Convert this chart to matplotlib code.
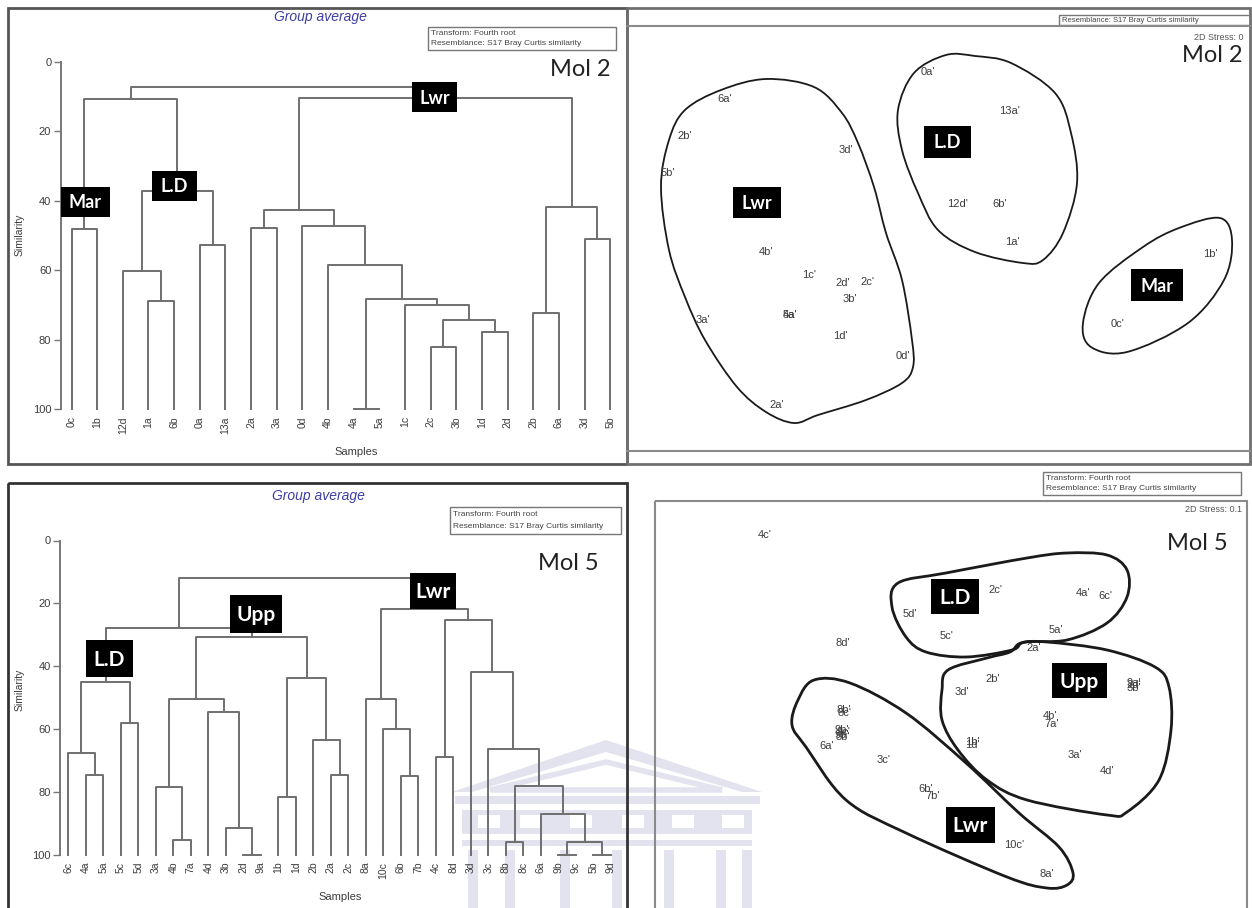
"""
Mol 2 / Mol 5 cluster dendrograms (group average, Bray Curtis) with the
matching 2D MDS ordinations and their hand-drawn group outlines.
"""

import matplotlib

matplotlib.use("Agg")  # headless-safe backend
import matplotlib.pyplot as plt
import numpy as np
from matplotlib.patches import PathPatch, Polygon, Rectangle
from matplotlib.path import Path

W, H = 1252, 908
LINE = "#6f6f6f"
TXT = "#3c3c3c"
SANS = "Liberation Sans"
BOX_FONT = "Lato"
WATERMARK = "#e2e3ef"

# ---------------------------------------------------------------- dendrogram data
# merges: (left, right, similarity); str = leaf, int = index of an earlier merge
MOL2_LEAVES = ["0c", "1b", "12d", "1a", "6b", "0a", "13a", "2a", "3a", "0d", "4b",
               "4a", "5a", "1c", "2c", "3b", "1d", "2d", "2b", "6a", "3d", "5b"]
MOL2_MERGES = [
    ("0c", "1b", 48.3), ("1a", "6b", 68.9), ("12d", 1, 60.3), ("0a", "13a", 52.9),
    (2, 3, 37.2), (0, 4, 10.8), ("2a", "3a", 47.8), ("4a", "5a", 100.0),
    ("2c", "3b", 82.0), ("1d", "2d", 77.7), (8, 9, 74.3), ("1c", 10, 69.9),
    (7, 11, 68.4), ("4b", 12, 58.4), ("0d", 13, 47.2), (6, 14, 42.6),
    ("2b", "6a", 72.2), ("3d", "5b", 50.9), (16, 17, 41.8), (15, 18, 10.4),
    (5, 19, 7.4),
]

MOL5_LEAVES = ["6c", "4a", "5a", "5c", "5d", "3a", "4b", "7a", "4d", "3b", "2d", "9a",
               "1b", "1d", "2b", "2a", "2c", "8a", "10c", "6b", "7b", "4c", "8d", "3d",
               "3c", "8b", "8c", "6a", "9b", "9c", "5b", "9d"]
MOL5_MERGES = [
    ("4a", "5a", 74.7), ("6c", 0, 67.6), ("5c", "5d", 58.2), (1, 2, 45.0),
    ("4b", "7a", 95.4), ("3a", 4, 78.4), ("2d", "9a", 100.0), ("3b", 6, 91.6),
    ("4d", 7, 54.7), (5, 8, 50.5), ("1b", "1d", 81.6), ("2a", "2c", 74.7),
    ("2b", 11, 63.5), (10, 12, 43.9), (9, 13, 30.6), (3, 14, 28.0),
    ("6b", "7b", 75.0), ("10c", 16, 60.1), ("8a", 17, 50.5), ("4c", "8d", 68.8),
    ("8b", "8c", 96.1), ("9b", "9c", 100.0), ("5b", "9d", 100.0), (21, 22, 96.1),
    ("6a", 23, 86.9), (20, 24, 78.1), ("3c", 25, 66.4), ("3d", 26, 42.0),
    (19, 27, 25.3), (18, 28, 21.9), (15, 29, 12.0),
]

# ---------------------------------------------------------------- MDS data
MOL2_SAMPLES = ["0a", "13a", "6a", "2b", "3d", "5b", "12d", "6b", "1a", "4b", "1c",
                "2d", "2c", "3b", "3a", "4a", "5a", "1d", "0d", "2a", "1b", "0c"]
MOL2_X = [-0.12, 0.70, -2.15, -2.55, -0.94, -2.72, 0.18, 0.60, 0.72, -1.74, -1.31,
          -0.97, -0.73, -0.90, -2.37, -1.50, -1.50, -1.00, -0.37, -1.63, 2.70, 1.78]
MOL2_Y = [1.68, 1.29, 1.41, 1.04, 0.90, 0.67, 0.36, 0.36, -0.02, -0.12, -0.35,
          -0.43, -0.42, -0.59, -0.80, -0.75, -0.75, -0.96, -1.16, -1.65, -0.14, -0.84]

MOL2_LWR_OUTLINE = [(-1.74, 1.61), (-1.26, 1.53), (-0.98, 1.27), (-0.82, 0.97),
                    (-0.66, 0.53), (-0.54, 0.07), (-0.38, -0.40), (-0.28, -1.00),
                    (-0.27, -1.27), (-0.38, -1.43), (-0.74, -1.60), (-1.22, -1.75),
                    (-1.46, -1.83), (-1.74, -1.72), (-2.03, -1.47), (-2.35, -1.00),
                    (-2.55, -0.57), (-2.71, -0.10), (-2.79, 0.53), (-2.71, 1.00),
                    (-2.55, 1.30), (-2.19, 1.50)]
MOL2_LD_OUTLINE = [(0.06, 1.85), (0.35, 1.84), (0.71, 1.77), (1.15, 1.47), (1.31, 1.07),
                   (1.37, 0.57), (1.23, 0.07), (1.03, -0.20), (0.83, -0.23),
                   (0.35, -0.12), (-0.02, 0.10), (-0.22, 0.47), (-0.38, 0.90),
                   (-0.42, 1.30), (-0.26, 1.67)]
MOL2_MAR_OUTLINE = [(2.80, 0.22), (2.92, 0.00), (2.84, -0.40), (2.48, -0.83),
                    (1.87, -1.12), (1.51, -1.07), (1.43, -0.83), (1.59, -0.43),
                    (2.03, -0.07), (2.39, 0.12)]

MOL5_SAMPLES = ["4c", "2c", "4a", "6c", "5d", "5c", "5a", "8d", "2a", "2b", "3d", "9a",
                "2d", "3b", "4b", "7a", "1b", "1d", "3a", "4d", "8b", "8c", "9b", "9c",
                "5b", "9d", "6a", "3c", "6b", "7b", "10c", "8a"]
MOL5_X = [-1.85, 0.45, 1.33, 1.55, -0.40, -0.03, 1.06, -1.07, 0.84, 0.43, 0.12, 1.84,
          1.84, 1.84, 1.00, 1.02, 0.22, 0.22, 1.25, 1.57, -1.06, -1.05, -1.08, -1.07,
          -1.07, -1.08, -1.23, -0.66, -0.24, -0.17, 0.64, 0.97]
MOL5_Y = [1.65, 1.10, 1.07, 1.04, 0.86, 0.64, 0.70, 0.57, 0.52, 0.21, 0.08, 0.17,
          0.15, 0.12, -0.16, -0.24, -0.42, -0.45, -0.55, -0.71, -0.10, -0.13, -0.30,
          -0.32, -0.37, -0.35, -0.46, -0.60, -0.89, -0.96, -1.45, -1.74]

MOL5_LD_OUTLINE = [(-0.52, 1.17), (-0.04, 1.27), (0.77, 1.42), (1.17, 1.47), (1.57, 1.45),
                   (1.77, 1.30), (1.77, 1.03), (1.57, 0.77), (1.17, 0.60), (0.75, 0.58),
                   (0.62, 0.50), (0.16, 0.43), (-0.24, 0.48), (-0.44, 0.63), (-0.58, 0.93)]
MOL5_UPP_OUTLINE = [(-0.02, 0.30), (0.37, 0.42), (0.60, 0.48), (0.71, 0.57), (0.97, 0.58),
                    (1.57, 0.50), (2.05, 0.33), (2.19, 0.13), (2.21, -0.30), (2.09, -0.80),
                    (1.77, -1.12), (1.57, -1.15), (0.77, -1.00), (0.37, -0.80),
                    (0.08, -0.50), (-0.08, -0.20), (-0.08, 0.10)]
MOL5_LWR_OUTLINE = [(-1.36, 0.20), (-1.00, 0.17), (-0.44, -0.13), (0.16, -0.63),
                    (0.69, -1.13), (1.09, -1.47), (1.23, -1.73), (1.17, -1.85),
                    (0.97, -1.88), (0.57, -1.77), (-0.44, -1.33), (-1.04, -1.00),
                    (-1.44, -0.47), (-1.58, -0.25), (-1.52, 0.00)]


def px_axes(fig, x0, y0, x1, y1, **kw):
    return fig.add_axes([x0 / W, 1 - y1 / H, (x1 - x0) / W, (y1 - y0) / H], **kw)


def draw_dendrogram(ax, leaves, merges, xlim):
    pos = {name: (i, 100.0) for i, name in enumerate(leaves)}
    for k, (a, b, h) in enumerate(merges):
        (xa, ya), (xb, yb) = pos[a], pos[b]
        ax.plot([xa, xa, xb, xb], [ya, h, h, yb], color=LINE, lw=1.4, clip_on=False)
        pos[k] = ((xa + xb) / 2, h)
    ax.set_xlim(*xlim)
    ax.set_ylim(100, 0)
    ax.set_yticks(range(0, 101, 20))
    ax.set_xticks(range(len(leaves)))
    ax.set_xticklabels(leaves, rotation=90, fontsize=7.5, color=TXT, family=SANS)
    for lab in ax.get_yticklabels():
        lab.set_family(SANS)
    for s in ("top", "right", "bottom"):
        ax.spines[s].set_visible(False)
    ax.spines["left"].set_color("#777777")
    ax.spines["left"].set_linewidth(1.4)
    ax.tick_params(axis="x", length=0, pad=5)
    ax.tick_params(axis="y", length=5, width=1, color="#777777", labelsize=8,
                   labelcolor=TXT, pad=2)
    ax.patch.set_alpha(0)


def smooth_closed(points):
    p = np.asarray(points, float)
    n = len(p)
    verts, codes = [p[0]], [Path.MOVETO]
    for i in range(n):
        p0, p1, p2, p3 = p[i - 1], p[i], p[(i + 1) % n], p[(i + 2) % n]
        verts += [p1 + (p2 - p0) / 6, p2 - (p3 - p1) / 6, p2]
        codes += [Path.CURVE4] * 3
    return Path(verts, codes)


def draw_mds(ax, names, xs, ys, outlines, lw, xlim, ylim):
    for outline in outlines:
        ax.add_patch(PathPatch(smooth_closed(outline), fill=False, ec="#1a1a1a", lw=lw))
    for name, x, y in zip(names, xs, ys):
        ax.text(x, y, name + "'", fontsize=8, color=TXT, family=SANS,
                ha="center", va="center")
    ax.set_xlim(*xlim)
    ax.set_ylim(*ylim)
    ax.axis("off")


def label_box(ax, x0, y0, x1, y1, text, size):
    ax.add_patch(Rectangle((x0, y0), x1 - x0, y1 - y0, facecolor="black", edgecolor="none"))
    ax.text((x0 + x1) / 2, (y0 + y1) / 2 + 1, text, color="white", ha="center",
            va="center", fontsize=size, fontweight="bold", family=BOX_FONT)


def info_box(ax, x0, y0, x1, y1, lines, size=6):
    rect = Rectangle((x0, y0), x1 - x0, y1 - y0, fill=False, ec="#777777", lw=1)
    ax.add_patch(rect)
    step = (y1 - y0) / (len(lines) + 0.2)
    for i, line in enumerate(lines):
        t = ax.text(x0 + 3, y0 + step * (i + 0.6), line, fontsize=size, color="#444444",
                    family=SANS, va="center", ha="left")
        t.set_clip_path(rect)


def watermark(ax):
    # faint building logo that sits behind the lower panels
    kw = dict(color=WATERMARK, lw=0)
    ax.add_patch(Polygon([(452, 792), (606, 740), (762, 792), (742, 792), (606, 752),
                          (472, 792)], closed=True, **kw))
    ax.add_patch(Polygon([(490, 790), (606, 762), (722, 790)], closed=True,
                         fill=False, ec=WATERMARK, lw=4))
    ax.add_patch(Rectangle((455, 796), 305, 8, **kw))
    ax.add_patch(Rectangle((462, 810), 290, 24, **kw))
    for x in (478, 520, 570, 622, 672, 722):
        ax.add_patch(Rectangle((x, 815), 22, 13, color="white", lw=0))
    ax.add_patch(Rectangle((462, 840), 290, 6, **kw))
    for x in (468, 505, 560, 612, 664, 716, 742):
        ax.add_patch(Rectangle((x, 850), 10, 60, **kw))


fig = plt.figure(figsize=(W / 100, H / 100), dpi=100, facecolor="white")

# background layer (watermark)
bg = fig.add_axes([0, 0, 1, 1], zorder=-1)
bg.set_xlim(0, W)
bg.set_ylim(H, 0)
bg.axis("off")
watermark(bg)

# dendrograms
ax_d2 = px_axes(fig, 61, 61.5, 623, 409.3)
draw_dendrogram(ax_d2, MOL2_LEAVES, MOL2_MERGES, (-0.41, 21.5))
ax_d5 = px_axes(fig, 60.3, 540.5, 619.5, 854.7)
draw_dendrogram(ax_d5, MOL5_LEAVES, MOL5_MERGES, (-0.46, 31.5))

# MDS plots (1 unit = 100 px)
ax_m2 = px_axes(fig, 630, 27, 1248, 450)
draw_mds(ax_m2, MOL2_SAMPLES, MOL2_X, MOL2_Y,
         [MOL2_LWR_OUTLINE, MOL2_LD_OUTLINE, MOL2_MAR_OUTLINE], 1.3,
         (-3.10, 3.08), (-2.10, 2.13))
ax_m5 = px_axes(fig, 655, 501, 1247, 908)
draw_mds(ax_m5, MOL5_SAMPLES, MOL5_X, MOL5_Y,
         [MOL5_LD_OUTLINE, MOL5_UPP_OUTLINE, MOL5_LWR_OUTLINE], 2.0,
         (-2.95, 2.97), (-2.08, 1.99))

# overlay in pixel coordinates: frames, titles, boxes
ov = fig.add_axes([0, 0, 1, 1], zorder=5)
ov.set_xlim(0, W)
ov.set_ylim(H, 0)
ov.axis("off")

ov.add_patch(Rectangle((8, 8), 619, 456, fill=False, ec="#555555", lw=2))
ov.add_patch(Rectangle((627, 8), 623, 456, fill=False, ec="#707070", lw=2))
ov.plot([627, 1250], [26, 26], color="#8a8a8a", lw=1.5)
ov.plot([627, 1250], [451, 451], color="#8a8a8a", lw=1.5)
ov.add_patch(Rectangle((8, 483), 619, 440, fill=False, ec="#333333", lw=2))
ov.add_patch(Rectangle((655, 501), 592, 420, fill=False, ec="#8a8a8a", lw=1.5))

# top-left panel
ov.text(320, 17, "Group average", fontsize=10, style="italic", color="#3d3da8",
        family=SANS, ha="center", va="center")
info_box(ov, 428, 27, 616, 50, ["Transform: Fourth root",
                                 "Resemblance: S17 Bray Curtis similarity"])
ov.text(580, 69, "Mol 2", fontsize=17, color="#222222", family=BOX_FONT,
        ha="center", va="center")
ov.text(20, 235, "Similarity", fontsize=7.5, color=TXT, family=SANS, rotation=90,
        ha="center", va="center")
ov.text(356, 452, "Samples", fontsize=8, color=TXT, family=SANS, ha="center", va="center")
label_box(ov, 61, 187, 110, 217, "Mar", 13)
label_box(ov, 152, 171, 197, 201, "L.D", 13)
label_box(ov, 412, 82, 457, 112, "Lwr", 13)

# top-right panel
info_box(ov, 1059, 15, 1250, 25, ["Resemblance: S17 Bray Curtis similarity"], size=5.5)
ov.text(1244, 37, "2D Stress: 0", fontsize=6.5, color="#555555", family=SANS,
        ha="right", va="center")
ov.text(1243, 56, "Mol 2", fontsize=17, color="#222222", family=BOX_FONT,
        ha="right", va="center")
label_box(ov, 924, 126, 971, 158, "L.D", 13)
label_box(ov, 733, 187, 781, 218, "Lwr", 13)
label_box(ov, 1131, 269, 1183, 301, "Mar", 13)

# bottom-left panel
ov.text(318, 496, "Group average", fontsize=10, style="italic", color="#3d3da8",
        family=SANS, ha="center", va="center")
info_box(ov, 450, 507, 621, 534, ["Transform: Fourth root",
                                   "Resemblance: S17 Bray Curtis similarity"])
ov.text(568, 563, "Mol 5", fontsize=17, color="#222222", family=BOX_FONT,
        ha="center", va="center")
ov.text(20, 690, "Similarity", fontsize=7.5, color=TXT, family=SANS, rotation=90,
        ha="center", va="center")
ov.text(340, 897, "Samples", fontsize=8, color=TXT, family=SANS, ha="center", va="center")
label_box(ov, 86, 640, 133, 677, "L.D", 15)
label_box(ov, 230, 595, 282, 633, "Upp", 15)
label_box(ov, 410, 573, 456, 609, "Lwr", 15)

# bottom-right panel
info_box(ov, 1043, 472, 1241, 495, ["Transform: Fourth root",
                                     "Resemblance: S17 Bray Curtis similarity"], size=6)
ov.text(1242, 510, "2D Stress: 0.1", fontsize=6.5, color="#555555", family=SANS,
        ha="right", va="center")
ov.text(1228, 544, "Mol 5", fontsize=17, color="#222222", family=BOX_FONT,
        ha="right", va="center")
label_box(ov, 931, 579, 979, 614, "L.D", 15)
label_box(ov, 1052, 663, 1107, 698, "Upp", 15)
label_box(ov, 946, 807, 995, 843, "Lwr", 15)

fig.savefig("out.png", dpi=100)
plt.close(fig)
